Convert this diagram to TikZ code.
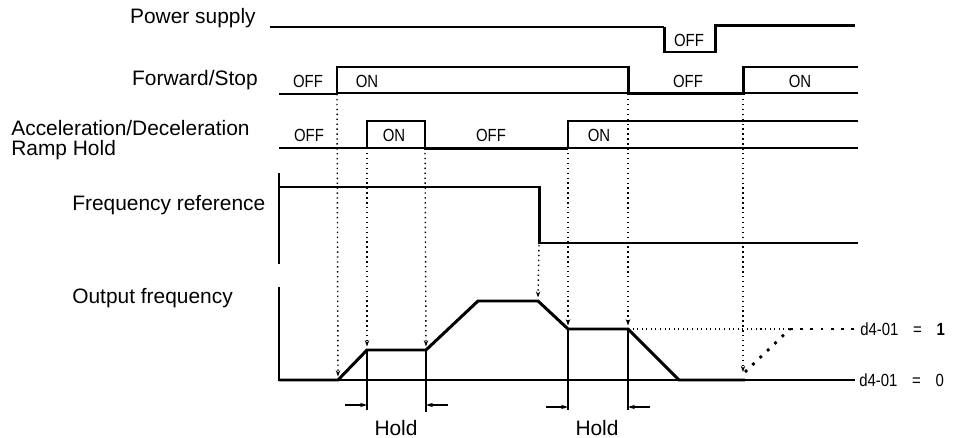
\documentclass[tikz,border=0pt]{standalone}
\usepackage{fontspec}
\setmainfont{Liberation Sans}
\newfontfamily\pixfont[FakeStretch=0.85]{Liberation Sans}
\usetikzlibrary{arrows.meta}

\begin{document}
\begin{tikzpicture}[
  x=0.02cm, y=-0.02cm,
  signame/.style = {font=\fontsize{11.9}{11.4}\selectfont, inner sep=0pt,
                    align=left},
  state/.style   = {font=\pixfont\fontsize{10}{10}\selectfont, inner sep=0pt},
  level/.style   = {line width=1.7pt, line join=miter},
  rail/.style    = {line width=0.6pt},
                    % the thin base line under each signal
  guide/.style   = {line width=0.8pt, dotted,
                    -{Stealth[length=3.5pt,width=2.5pt]}},
  hold/.style    = {line width=0.7pt},
  dim/.style     = {line width=0.6pt, -{Stealth[length=4pt,width=2.5pt]}},
  boldot/.style  = {line width=1.6pt, dash pattern=on 1.6pt off 4.2pt},
]
  \useasboundingbox (0,0) rectangle (960,438);

  % signal names
  \node[signame, anchor=east] (n_pwr) at (256,18) {Power supply};
  \node[signame, anchor=east] (n_fwd) at (258,80) {Forward/Stop};
  \node[signame, anchor=west] (n_acc) at (11,140) {Acceleration/Deceleration\\Ramp Hold};
  \node[signame, anchor=west] (n_ref) at (72,205) {Frequency reference};
  \node[signame, anchor=west] (n_out) at (72,298) {Output frequency};

  % events
  \coordinate (fwd_on)   at (337,94);
  \coordinate (fwd_off)  at (628,94);
  \coordinate (fwd_re)   at (743,94);
  \coordinate (hold_on)  at (367,148);
  \coordinate (hold_off) at (425,148);
  \coordinate (hold_re)  at (568,148);
  \coordinate (ref_dn)   at (539,245);

  % power supply
  \draw[level, line width=1.1pt] (270,27) -- (664,27);
  \draw[level] (664,27) -- (664,52) -- (715,52) -- (715,26) -- (855,26);
  \node[state] (s_poff) at (689,40) {OFF};

  % forward/stop
  \draw[rail] (337,93) -- (858,93);
  \draw[level] (279,94) -- (337,94) -- (337,67) -- (628,67) -- (628,94)
               -- (743,94) -- (743,67) -- (858,67);
  \node[state] (s_f1) at (308,81) {OFF};
  \node[state] (s_f2) at (367,81) {ON};
  \node[state] (s_f3) at (688,81) {OFF};
  \node[state] (s_f4) at (800,81) {ON};

  % ramp hold
  \draw[rail] (279,148) -- (858,148);
  \draw[level] (367,148) -- (367,121) -- (425,121) -- (425,149) -- (568,149);
  \draw[rail] (568,149) -- (568,121) -- (858,121);
  \node[state] (s_a1) at (309,135) {OFF};
  \node[state] (s_a2) at (394,135) {ON};
  \node[state] (s_a3) at (491,135) {OFF};
  \node[state] (s_a4) at (599,135) {ON};

  % frequency reference
  \draw[rail] (279,173) -- (279,264);
  \draw[level] (279,187) -- (539,187) -- (539,243) -- (858,243);

  % output frequency
  \draw[rail] (279,287) -- (279,380) -- (855,380);
  \draw[level] (279,380) coordinate (o_0) -- (338,380) coordinate (o_a)
               -- (367,350) coordinate (o_b) -- (426,350) coordinate (o_c)
               -- (478,301) -- (538,301) coordinate (o_d)
               -- (568,329) coordinate (o_e) -- (628,329) coordinate (o_f)
               -- (679,380) -- (745,380) coordinate (o_g);
  \coordinate (o_top) at (790,329);
  \draw[rail, dotted] (o_f) -- (o_top);
  \draw[boldot] (o_top) -- (857,329);
  \draw[boldot] (745,372) -- (o_top);
  \node[state, anchor=west] (s_d1) at (860,329) {d4-01\hspace{0.6em} =\hspace{0.6em} \textbf{1}};
  \node[state, anchor=west] (s_d0) at (859,380) {d4-01\hspace{0.6em} =\hspace{0.6em} 0};

  % dotted guides from each event down to the output
  \draw[guide] (fwd_on)   -- ([yshift=2]o_a);
  \draw[guide] (hold_on)  -- ([yshift=2]o_b);
  \draw[guide] (hold_off) -- ([yshift=2]o_c);
  \draw[guide] (ref_dn)   -- ([yshift=2]o_d);
  \draw[guide] (hold_re)  -- ([yshift=2]o_e);
  \draw[guide] (fwd_off)  -- ([yshift=2]o_f);
  \draw[guide] (fwd_re)   -- (743,372);

  % hold times
  \draw[hold] (o_b) -- (367,410);
  \draw[hold] (o_c) -- (426,412);
  \draw[hold] (o_e) -- (568,410);
  \draw[hold] (o_f) -- (628,410);
  \draw[dim] (345,405) -- (367,405);
  \draw[dim] (448,405) -- (426,405);
  \draw[dim] (546,407) -- (568,407);
  \draw[dim] (650,407) -- (628,407);
  \node[signame] (h_1) at (396,428) {Hold};
  \node[signame] (h_2) at (597,428) {Hold};
\end{tikzpicture}
\end{document}
